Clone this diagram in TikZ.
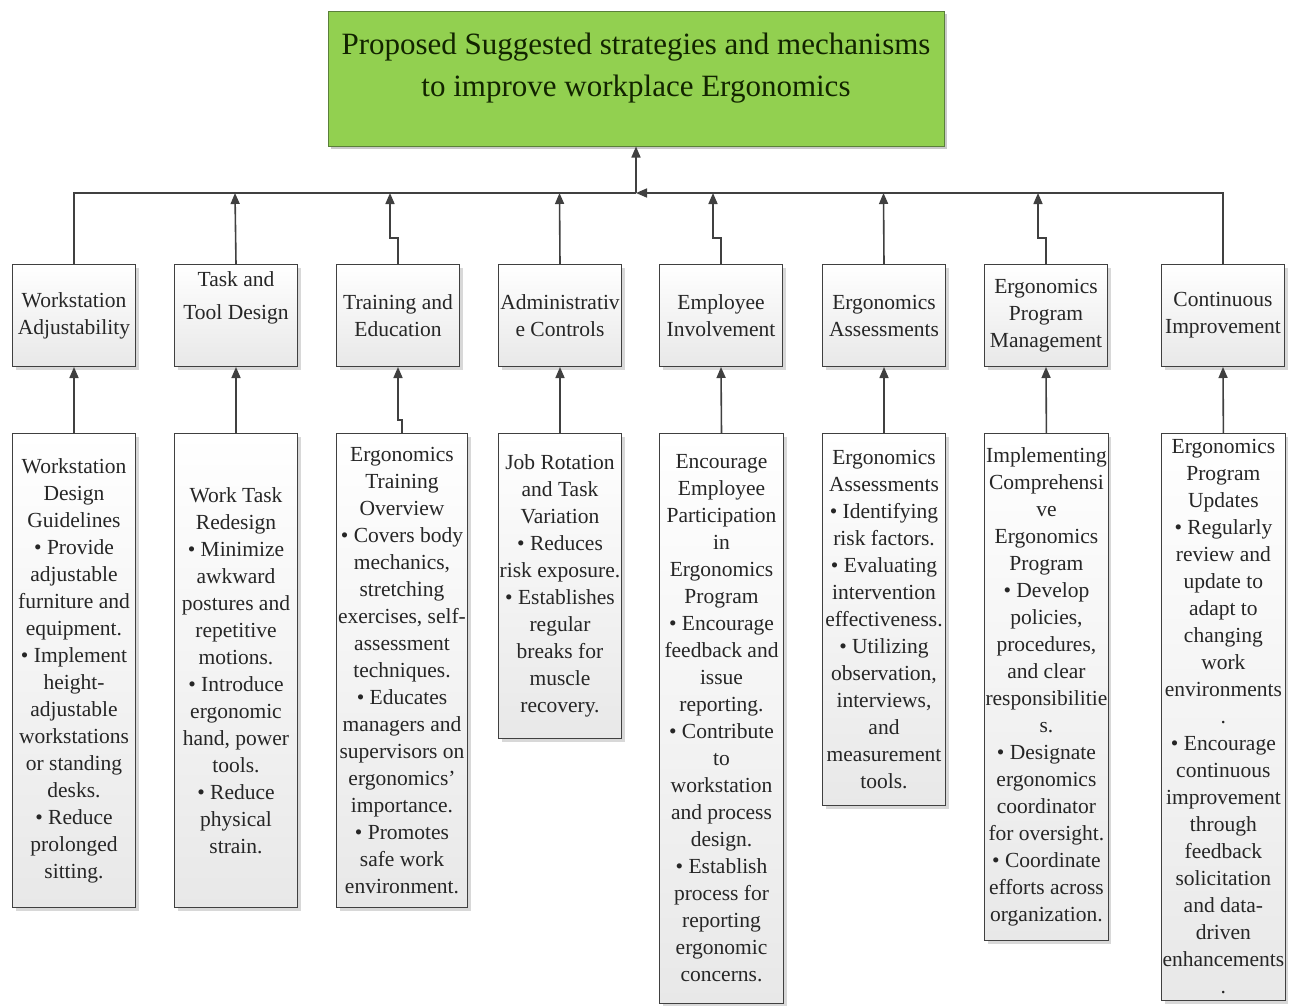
\documentclass[tikz,border=0pt]{standalone}
\usepackage{fontspec}
\setmainfont{Liberation Serif}
\usetikzlibrary{arrows.meta,shadows}

\definecolor{linegray}{HTML}{404040}
\definecolor{titlegreen}{HTML}{92D050}
\definecolor{titleborder}{HTML}{5A7F3A}
\definecolor{titletext}{HTML}{122400}

\tikzset{
  box/.style={draw=linegray, line width=1pt, top color=white, bottom color=black!9,
    drop shadow={shadow xshift=3pt, shadow yshift=-3pt, fill=black!25, opacity=0.6},
    anchor=north west, align=center, inner sep=1pt, text=black!85,
    font=\fontsize{21.5}{27}\selectfont},
  midbox/.style={box, minimum width=123pt, minimum height=102pt},
  detailbox/.style={box, minimum width=#1},
  titlebox/.style={draw=titleborder, line width=1pt, fill=titlegreen,
    drop shadow={shadow xshift=3pt, shadow yshift=-3pt, fill=black!35, opacity=0.6},
    minimum width=616pt, minimum height=135pt, align=center, text=titletext,
    font=\fontsize{31}{42}\selectfont},
  conn/.style={draw=linegray, line width=1.6pt},
  arr/.style={conn, -{Triangle[length=11pt,width=9pt]}}
}

\begin{document}
\begin{tikzpicture}[x=1pt, y=-1pt]
\useasboundingbox[fill=white] (0,0) rectangle (1291,1005);

% root
\node[titlebox, text depth=28pt] (title) at (636,78.5)
  {Proposed Suggested strategies and mechanisms\\to improve workplace Ergonomics};

% strategy headings
\node[midbox] (m1) at (12,264)   {Workstation\\Adjustability};
\node[midbox, text depth=40pt] (m2) at (174,264) {Task and\\[6pt]Tool Design};
\node[midbox] (m3) at (336,264)  {Training and\\Education};
\node[midbox] (m4) at (498,264)  {Administrativ\\e Controls};
\node[midbox] (m5) at (659,264)  {Employee\\Involvement};
\node[midbox] (m6) at (822,264)  {Ergonomics\\Assessments};
\node[midbox] (m7) at (984,264)  {Ergonomics\\Program\\Management};
\node[midbox] (m8) at (1161,264) {Continuous\\Improvement};

% mechanisms
\node[detailbox=123pt, minimum height=474pt] (b1) at (12,433)
  {Workstation\\Design\\Guidelines\\• Provide\\adjustable\\furniture and\\equipment.\\• Implement\\height-\\adjustable\\workstations\\or standing\\desks.\\• Reduce\\prolonged\\sitting.};
\node[detailbox=123pt, minimum height=474pt] (b2) at (174,433)
  {Work Task\\Redesign\\• Minimize\\awkward\\postures and\\repetitive\\motions.\\• Introduce\\ergonomic\\hand, power\\tools.\\• Reduce\\physical\\strain.};
\node[detailbox=131pt, minimum height=474pt] (b3) at (336,433)
  {Ergonomics\\Training\\Overview\\• Covers body\\mechanics,\\stretching\\exercises, self-\\assessment\\techniques.\\• Educates\\managers and\\supervisors on\\ergonomics'\\importance.\\• Promotes\\safe work\\environment.};
\node[detailbox=123pt, minimum height=305pt] (b4) at (498,433)
  {Job Rotation\\and Task\\Variation\\• Reduces\\risk exposure.\\• Establishes\\regular\\breaks for\\muscle\\recovery.};
\node[detailbox=124pt, minimum height=570pt] (b5) at (659,433)
  {Encourage\\Employee\\Participation\\in\\Ergonomics\\Program\\• Encourage\\feedback and\\issue\\reporting.\\• Contribute\\to\\workstation\\and process\\design.\\• Establish\\process for\\reporting\\ergonomic\\concerns.};
\node[detailbox=123pt, minimum height=372pt] (b6) at (822,433)
  {Ergonomics\\Assessments\\• Identifying\\risk factors.\\• Evaluating\\intervention\\effectiveness.\\• Utilizing\\observation,\\interviews,\\and\\measurement\\tools.};
\node[detailbox=123pt, minimum height=507pt] (b7) at (984,433)
  {Implementing\\Comprehensi\\ve\\Ergonomics\\Program\\• Develop\\policies,\\procedures,\\and clear\\responsibilitie\\s.\\• Designate\\ergonomics\\coordinator\\for oversight.\\• Coordinate\\efforts across\\organization.};
\node[detailbox=123pt, minimum height=567pt] (b8) at (1161,433)
  {Ergonomics\\Program\\Updates\\• Regularly\\review and\\update to\\adapt to\\changing\\work\\environments\\.\\• Encourage\\continuous\\improvement\\through\\feedback\\solicitation\\and data-\\driven\\enhancements\\.};

% bus points
\coordinate (hub) at (636,193);
\coordinate (p2) at (235,193);
\coordinate (p3) at (390,193);
\coordinate (p4) at (559.5,193);
\coordinate (p5) at (713,193);
\coordinate (p6) at (883.5,193);
\coordinate (p7) at (1038,193);

% connectors into the root
\draw[arr] (hub) -- (title.south);
\draw[conn] (m1.north) |- (hub);
\draw[arr] (m8.north) |- (hub);
\draw[arr] (m2.north) -- (p2);
\draw[arr] (m3.north) -- ++(0,-26) -| (p3);
\draw[arr] (m4.north) -- (p4);
\draw[arr] (m5.north) -- ++(0,-26) -| (p5);
\draw[arr] (m6.north) -- (p6);
\draw[arr] (m7.north) -- ++(0,-26) -| (p7);

% connectors from mechanisms to headings
\draw[arr] (b1.north) -- (m1.south);
\draw[arr] (b2.north) -- (m2.south);
\draw[arr] (b3.north) -- ++(0,-13) -| (m3.south);
\draw[arr] (b4.north) -- (m4.south);
\draw[arr] (b5.north) -- (m5.south);
\draw[arr] (b6.north) -- (m6.south);
\draw[arr] (b7.north) -- (m7.south);
\draw[arr] (b8.north) -- (m8.south);
\end{tikzpicture}
\end{document}
